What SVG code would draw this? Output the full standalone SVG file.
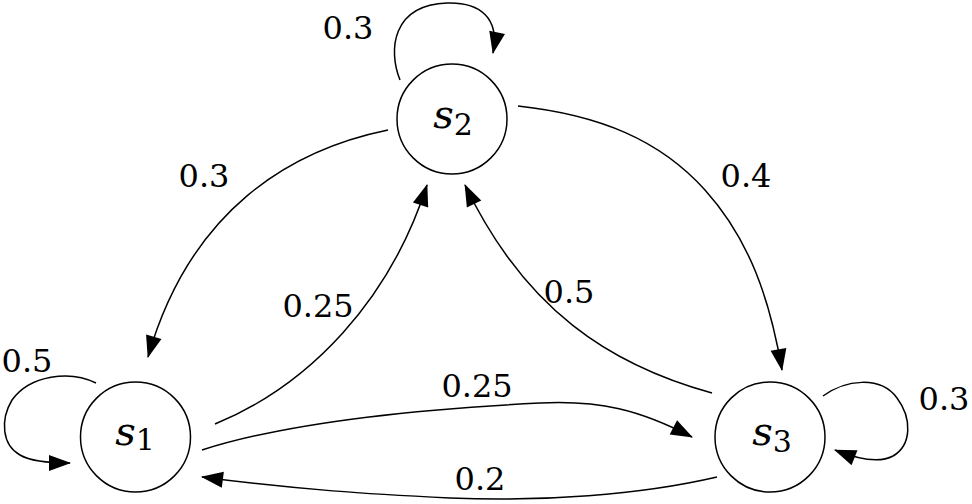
<svg xmlns="http://www.w3.org/2000/svg" width="972" height="504" viewBox="0 0 972 504">
<style>
.node{fill:none;stroke:#000;stroke-width:1.5}
.edge{fill:none;stroke:#000;stroke-width:1.5;marker-end:url(#arr)}
text{font-family:'DejaVu Serif',serif;fill:#000;text-anchor:middle}
.lbl{font-size:32px}
.nl{font-size:40px}
.sub{font-style:normal;font-size:30px}
</style>
<defs>
<marker id="arr" markerUnits="userSpaceOnUse" markerWidth="22" markerHeight="16" refX="21" refY="8" orient="auto" overflow="visible">
<path d="M0,0 L22,8 L0,16 z" fill="#000"/>
</marker>
</defs>
<rect width="972" height="504" fill="#fff"/>
<g id="connectors">
<path class="edge" d="M400 80 C388 50 392 5 447 3 C480 2 500 18 493 53"/>
<path class="edge" d="M96 383 C70 370 30 375 12 400 C0 420 2 445 20 455 C30 461 45 463 70 463"/>
<path class="edge" d="M823 396 C845 380 880 375 897 398 C912 418 912 445 893 456 C880 463 860 460 835 450"/>
<path class="edge" d="M388 130 C290 150 190 210 148 357"/>
<path class="edge" d="M215 424 C310 385 390 300 427 185"/>
<path class="edge" d="M518 106 C600 115 660 140 705 190 C750 240 770 300 782 370"/>
<path class="edge" d="M712 393 C610 365 525 310 465 185"/>
<path class="edge" d="M202 450 C280 425 400 410 540 403 C600 400 640 410 692 437"/>
<path class="edge" d="M717 477 C640 495 540 502 450 498 C370 494 300 490 202 477"/>
<text class="lbl" x="348" y="39">0.3</text>
<text class="lbl" x="204" y="187">0.3</text>
<text class="lbl" x="746" y="187">0.4</text>
<text class="lbl" x="318" y="317">0.25</text>
<text class="lbl" x="569" y="303">0.5</text>
<text class="lbl" x="27" y="372">0.5</text>
<text class="lbl" x="944" y="410">0.3</text>
<text class="lbl" x="477" y="397">0.25</text>
<text class="lbl" x="480" y="490">0.2</text>
</g>
<g id="s1">
<circle class="node" cx="135.5" cy="437" r="55"/>
<text class="nl" x="135" y="445"><tspan font-style="italic">s</tspan><tspan class="sub" dy="5">1</tspan></text>
</g>
<g id="s2">
<circle class="node" cx="452" cy="119" r="55"/>
<text class="nl" x="453" y="128"><tspan font-style="italic">s</tspan><tspan class="sub" dy="7">2</tspan></text>
</g>
<g id="s3">
<circle class="node" cx="770" cy="437" r="55"/>
<text class="nl" x="772" y="445"><tspan font-style="italic">s</tspan><tspan class="sub" dy="7">3</tspan></text>
</g>
</svg>
